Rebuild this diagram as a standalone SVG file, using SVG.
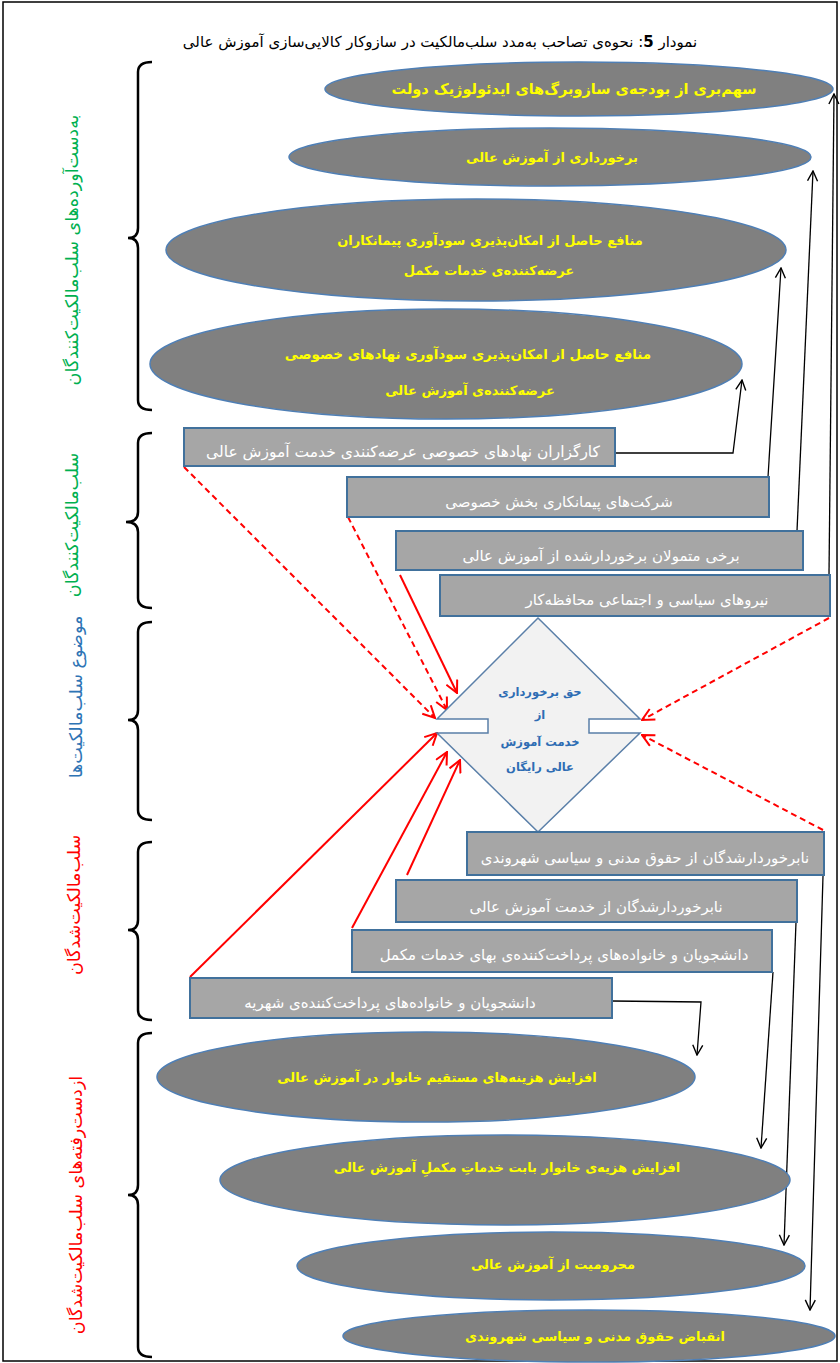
<svg xmlns="http://www.w3.org/2000/svg" width="840" height="1363" viewBox="0 0 840 1363">
<defs>
<style>
.t{font-family:"DejaVu Sans",sans-serif;direction:rtl;text-anchor:middle}
.title{font-size:15px;fill:#000}
.ell{fill:#808080;stroke:#4f7fb5;stroke-width:1.5}
.et{font-size:13px;font-weight:bold;fill:#ffff00}
.box{fill:#a6a6a6;stroke:#41719c;stroke-width:2}
.bt{font-size:15px;fill:#ffffff}
.dia{fill:#f2f2f2;stroke:#5a7fa8;stroke-width:1.5}
.dt{font-size:11.5px;font-weight:bold;fill:#2e6db4}
.brace{fill:none;stroke:#000;stroke-width:2.5}
.lab{font-size:17.5px}
.blk{fill:none;stroke:#000;stroke-width:1.3}
.rs{fill:none;stroke:#ff0000;stroke-width:2}
.rd{fill:none;stroke:#ff0000;stroke-width:2;stroke-dasharray:6 4}
</style>
<marker id="ab" viewBox="0 0 12 12" refX="11" refY="6" markerWidth="12" markerHeight="12" markerUnits="userSpaceOnUse" orient="auto"><path d="M1,1 L11,6 L1,11" fill="none" stroke="#000" stroke-width="1.4"/></marker>
<marker id="ar" viewBox="0 0 14 14" refX="13" refY="7" markerWidth="14" markerHeight="14" markerUnits="userSpaceOnUse" orient="auto"><path d="M1,1 L13,7 L1,13" fill="none" stroke="#ff0000" stroke-width="2"/></marker>
</defs>
<rect x="3" y="2" width="834" height="1359" fill="#fff" stroke="#000" stroke-width="1.5"/>
<text class="t title" x="440" y="47">نمودار <tspan font-weight="bold">5</tspan>: نحوه‌ی تصاحب به‌مدد سلب‌مالکیت در سازوکار کالایی‌سازی آموزش عالی</text>

<g id="braces">
<path class="brace" d="M152,62 Q138,62 138,72 L138,228 Q138,238 128,238 Q138,238 138,248 L138,400 Q138,410 152,410"/>
<path class="brace" d="M152,433 Q138,433 138,443 L138,512 Q138,522 126,522 Q138,522 138,532 L138,598 Q138,608 152,608"/>
<path class="brace" d="M152,622 Q138,622 138,632 L138,710 Q138,720 128,720 Q138,720 138,730 L138,810 Q138,820 152,820"/>
<path class="brace" d="M152,842 Q138,842 138,852 L138,920 Q138,930 128,930 Q138,930 138,940 L138,1010 Q138,1020 152,1020"/>
<path class="brace" d="M152,1033 Q138,1033 138,1043 L138,1185 Q138,1195 128,1195 Q138,1195 138,1205 L138,1347 Q138,1357 152,1357"/>
</g>

<g id="labels">
<text class="t lab" transform="translate(78,250) rotate(-90)" fill="#00b050">به‌دست‌آورده‌های سلب‌مالکیت‌کنند‌گان</text>
<text class="t lab" transform="translate(78,525) rotate(-90)" fill="#00b050">سلب‌مالکیت‌کنند‌گان</text>
<text class="t lab" transform="translate(82,697) rotate(-90)" fill="#2e74b5">موضوع سلب‌مالکیت‌ها</text>
<text class="t lab" transform="translate(80,905) rotate(-90)" fill="#ff0000">سلب‌مالکیت‌شد‌گان</text>
<text class="t lab" transform="translate(82,1205) rotate(-90)" fill="#ff0000">ازدست‌رفته‌های سلب‌مالکیت‌شد‌گان</text>
</g>

<g id="connectors">
<path class="blk" d="M615,453 L733,453 L742,380" marker-end="url(#ab)"/>
<path class="blk" d="M768,477 L781,268" marker-end="url(#ab)"/>
<path class="blk" d="M797,531 L813,171" marker-end="url(#ab)"/>
<path class="blk" d="M829,575 L834,94" marker-end="url(#ab)"/>
<path class="blk" d="M612,1001 L701,1002 L697,1055" marker-end="url(#ab)"/>
<path class="blk" d="M773,972 L761,1148" marker-end="url(#ab)"/>
<path class="blk" d="M796,922 L784,1245" marker-end="url(#ab)"/>
<path class="blk" d="M823,876 L810,1310" marker-end="url(#ab)"/>
<path class="rd" d="M184,467 L435,718" marker-end="url(#ar)"/>
<path class="rd" d="M348,517 L447,710" marker-end="url(#ar)"/>
<path class="rs" d="M400,575 L457,693" marker-end="url(#ar)"/>
<path class="rd" d="M829,618 L642,720" marker-end="url(#ar)"/>
<path class="rd" d="M823,830 L642,735" marker-end="url(#ar)"/>
<path class="rs" d="M190,977 L437,733" marker-end="url(#ar)"/>
<path class="rs" d="M352,928 L447,752" marker-end="url(#ar)"/>
<path class="rs" d="M407,875 L460,760" marker-end="url(#ar)"/>
</g>

<g id="e1"><ellipse class="ell" cx="579" cy="89" rx="254" ry="27"/><text class="t et" x="574" y="94" style="font-size:14.5px">سهم‌بری از بودجه‌ی سازوبرگ‌های ایدئولوژیک دولت</text></g>
<g id="e2"><ellipse class="ell" cx="550" cy="157" rx="261" ry="29"/><text class="t et" x="552" y="162">برخورداری از آموزش عالی</text></g>
<g id="e3"><ellipse class="ell" cx="476" cy="250" rx="310" ry="51"/><text class="t et" x="490" y="245">منافع حاصل از امکان‌پذیری سودآوری پیمانکاران</text><text class="t et" x="489" y="275">عرضه‌کننده‌ی خدمات مکمل</text></g>
<g id="e4"><ellipse class="ell" cx="446" cy="364" rx="296" ry="55"/><text class="t et" x="468" y="359" style="font-size:13.5px">منافع حاصل از امکان‌پذیری سودآوری  نهادهای خصوصی</text><text class="t et" x="470" y="395">عرضه‌کننده‌ی آموزش عالی</text></g>

<g id="b1"><rect class="box" x="184" y="428" width="431" height="38"/><text class="t bt" x="403" y="457" style="font-size:15.5px">کارگزاران نهادهای خصوصی عرضه‌کنندی خدمت آموزش عالی</text></g>
<g id="b2"><rect class="box" x="347" y="477" width="422" height="40"/><text class="t bt" x="559" y="507">شرکت‌های پیمانکاری بخش خصوصی</text></g>
<g id="b3"><rect class="box" x="396" y="531" width="407" height="39"/><text class="t bt" x="601" y="561">برخی متمولان برخوردارشده از آموزش عالی</text></g>
<g id="b4"><rect class="box" x="440" y="575" width="390" height="41"/><text class="t bt" x="647" y="605">نیروهای سیاسی و اجتماعی محافظه‌کار</text></g>

<g id="diamond"><path class="dia" d="M538,618 L640,719 L589,719 L589,733 L640,733 L538,832 L437,733 L488,733 L488,719 L437,719 Z"/>
<text class="t dt" x="540" y="696">حق برخورداری</text>
<text class="t dt" x="540" y="719">از</text>
<text class="t dt" x="540" y="746">خدمت آموزش</text>
<text class="t dt" x="540" y="771">عالی رایگان</text></g>

<g id="b5"><rect class="box" x="467" y="832" width="357" height="43"/><text class="t bt" x="645" y="863">نابرخوردارشدگان از حقوق مدنی و سیاسی شهروندی</text></g>
<g id="b6"><rect class="box" x="396" y="880" width="401" height="42"/><text class="t bt" x="596" y="912">نابرخوردارشدگان از خدمت آموزش عالی</text></g>
<g id="b7"><rect class="box" x="352" y="930" width="420" height="42"/><text class="t bt" x="564" y="960">دانشجویان و خانواده‌های پرداخت‌کننده‌ی بهای خدمات مکمل</text></g>
<g id="b8"><rect class="box" x="190" y="978" width="422" height="40"/><text class="t bt" x="390" y="1008">دانشجویان و خانواده‌های پرداخت‌کننده‌ی شهریه</text></g>

<g id="e5"><ellipse class="ell" cx="426" cy="1077" rx="269" ry="45"/><text class="t et" x="437" y="1082">افزایش هزینه‌های مستقیم خانوار در آموزش عالی</text></g>
<g id="e6"><ellipse class="ell" cx="505" cy="1180" rx="285" ry="45"/><text class="t et" x="507" y="1172">افزایش هزیه‌ی خانوار بابت خدماتِ مکملِ آموزش عالی</text></g>
<g id="e7"><ellipse class="ell" cx="551" cy="1266" rx="254" ry="34"/><text class="t et" x="553" y="1269">محرومیت از آموزش عالی</text></g>
<g id="e8"><ellipse class="ell" cx="589" cy="1336" rx="246" ry="26"/><text class="t et" x="595" y="1341">انقباض حقوق مدنی و سیاسی شهروندی</text></g>
</svg>
